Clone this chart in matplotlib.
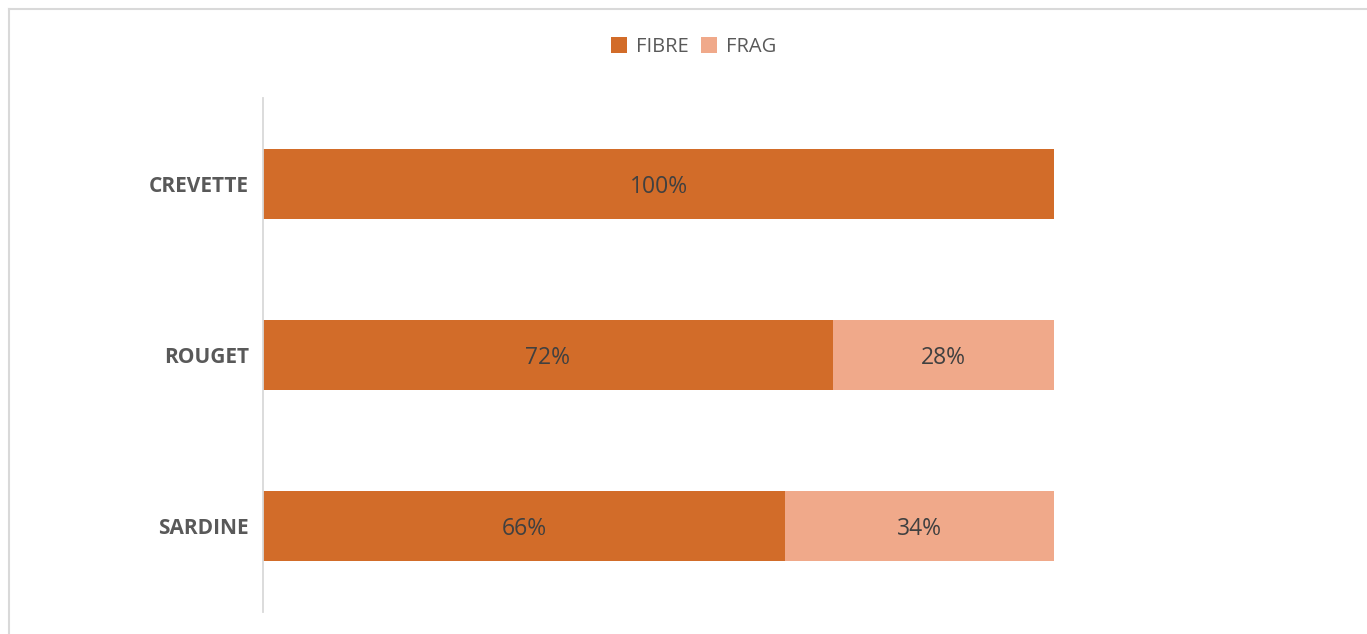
import matplotlib
matplotlib.use("Agg")
import matplotlib.pyplot as plt
from matplotlib.lines import Line2D

categories = ["CREVETTE", "ROUGET", "SARDINE"]
fibre = [100, 72, 66]
frag = [0, 28, 34]
series_names = ["FIBRE", "FRAG"]

c_fibre = "#D26C29"
c_frag = "#F0A98A"
txt = "#595959"
lab = "#404040"

plt.rcParams['font.family'] = ['Open Sans', 'DejaVu Sans']

fig = plt.figure(figsize=(13.67, 6.34), dpi=100)
ax = fig.add_axes([263/1367, 1-612/634, (1054-263)/1367, (612-98)/634])

y = list(range(len(categories)))
b1 = ax.barh(y, fibre, height=0.41, color=c_fibre, label=series_names[0])
b2 = ax.barh(y, frag, left=fibre, height=0.41, color=c_frag, label=series_names[1])

for i in y:
    if fibre[i] > 0:
        ax.text(fibre[i]/2, i, f"{fibre[i]}%", ha="center", va="center_baseline",
                fontsize=16.5, color=lab)
    if frag[i] > 0:
        ax.text(fibre[i] + frag[i]/2, i, f"{frag[i]}%", ha="center", va="center_baseline",
                fontsize=16.5, color=lab)

ax.set_xlim(0, 100)
ax.set_ylim(len(categories)-0.5, -0.5)
ax.set_yticks(y)
ax.set_yticklabels(categories, fontsize=15, fontweight="bold", color=txt,
                   va="center_baseline")
ax.tick_params(axis="y", length=0, pad=10)
ax.set_xticks([])
for s in ["top", "right", "bottom"]:
    ax.spines[s].set_visible(False)
ax.spines["left"].set_color("#D9D9D9")
ax.spines["left"].set_linewidth(1.3)

leg = fig.legend(handles=[b1, b2], labels=series_names, loc="center",
                 bbox_to_anchor=(694/1367, 1-47/634), ncol=2, frameon=False,
                 fontsize=14.5, handlelength=0.8, handleheight=0.8,
                 handletextpad=0.45, columnspacing=0.6)
for t in leg.get_texts():
    t.set_color(txt)

# outer chart border (left and top visible)
fig.add_artist(Line2D([9/1367, 1], [1-9/634, 1-9/634], color="#D9D9D9", lw=1.5,
                      transform=fig.transFigure))
fig.add_artist(Line2D([9/1367, 9/1367], [0, 1-9/634], color="#D9D9D9", lw=1.5,
                      transform=fig.transFigure))

fig.savefig("out.png", dpi=100)
